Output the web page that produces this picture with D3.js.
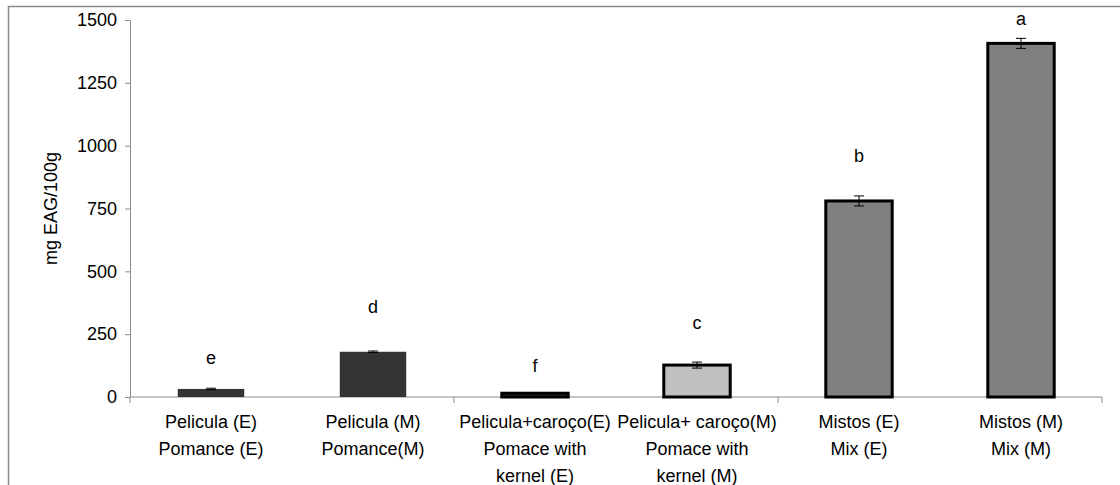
<!DOCTYPE html>
<html>
<head>
<meta charset="utf-8">
<script src="https://cdn.jsdelivr.net/npm/d3@7"></script>
<style>
  body { margin: 0; background: #fff; }
  svg { display: block; font-family: Arial, "Liberation Sans", sans-serif; }
</style>
</head>
<body>
<svg id="chart" width="1120" height="485"></svg>
<script>
// categories, each a list of label lines
const categories = [
  ['Pelicula (E)', 'Pomance (E)'],
  ['Pelicula (M)', 'Pomance(M)'],
  ['Pelicula+caroço(E)', 'Pomace with', 'kernel (E)'],
  ['Pelicula+ caroço(M)', 'Pomace with', 'kernel (M)'],
  ['Mistos (E)', 'Mix (E)'],
  ['Mistos (M)', 'Mix (M)'],
];
const values = [32, 180, 15, 127, 780, 1407];
const errors = [3, 3, 0, 12, 20, 20];
const letters = ['e', 'd', 'f', 'c', 'b', 'a'];
const letterAt = [131, 334, 100, 270, 935, 1480]; // baseline height in mg units
const yTicks = [0, 250, 500, 750, 1000, 1250, 1500];
const yTitle = 'mg EAG/100g';

const barFill = ['#333333', '#333333', '#333333', '#c0c0c0', '#808080', '#808080'];
const barStroke = [null, null, '#000', '#000', '#000', '#000'];

const margin = { top: 20, right: 18, bottom: 88, left: 130 };
const svg = d3.select('#chart');
const W = +svg.attr('width'), H = +svg.attr('height');
const width = W - margin.left - margin.right;
const height = H - margin.top - margin.bottom;
const axisColor = '#8c8c8c';
const fs = 18;

// outer frame (only top and left edges are visible)
svg.append('path')
  .attr('d', `M8.5,${H} V6.5 H${W}`)
  .attr('fill', 'none')
  .attr('stroke', '#8a8a8a')
  .attr('stroke-width', 1.5);

const g = svg.append('g').attr('transform', `translate(${margin.left},${margin.top})`);

const idx = categories.map((d, i) => i);
const x = d3.scaleBand().domain(idx).range([0, width]).padding(0);
const y = d3.scaleLinear().domain([0, 1500]).range([height, 0]);
const barW = x.bandwidth() * 0.41;

// y axis
const yAxis = g.append('g')
  .call(d3.axisLeft(y).tickValues(yTicks).tickSize(5).tickPadding(8).tickFormat(d3.format('d')));
yAxis.select('.domain').attr('stroke', axisColor);
yAxis.selectAll('.tick line').attr('stroke', axisColor);
yAxis.selectAll('.tick text').attr('font-size', fs).attr('fill', '#000')
  .attr('font-family', 'Arial, "Liberation Sans", sans-serif');

g.append('text')
  .attr('transform', `translate(${-73},${y(750)}) rotate(-90)`)
  .attr('text-anchor', 'middle')
  .attr('font-size', fs)
  .text(yTitle);

// x axis
g.append('line')
  .attr('x1', 0).attr('x2', width)
  .attr('y1', y(0)).attr('y2', y(0))
  .attr('stroke', axisColor);
const xTicks = idx.filter(i => i % 2 === 0).map(i => x(i)).concat([width]);
g.selectAll('.xtick').data(xTicks).join('line')
  .attr('class', 'xtick')
  .attr('x1', d => d).attr('x2', d => d)
  .attr('y1', y(0)).attr('y2', y(0) + 6)
  .attr('stroke', axisColor);

// category labels
const labels = g.selectAll('.cat').data(categories).join('text')
  .attr('class', 'cat')
  .attr('text-anchor', 'middle')
  .attr('font-size', fs)
  .attr('x', (d, i) => x(i) + x.bandwidth() / 2)
  .attr('y', y(0) + 31);
labels.selectAll('tspan').data(d => d).join('tspan')
  .attr('x', function () { return d3.select(this.parentNode).attr('x'); })
  .attr('dy', (d, i) => i === 0 ? 0 : 27)
  .text(d => d);

// bars
g.selectAll('.bar').data(values).join('rect')
  .attr('class', 'bar')
  .attr('x', (d, i) => x(i) + (x.bandwidth() - barW) / 2)
  .attr('width', barW)
  .attr('y', d => y(d))
  .attr('height', d => y(0) - y(d))
  .attr('fill', (d, i) => barFill[i])
  .attr('stroke', (d, i) => barStroke[i] || 'none')
  .attr('stroke-width', 3);

// error bars
const eb = g.selectAll('.err').data(values).join('g').attr('class', 'err')
  .attr('stroke', '#000').attr('stroke-width', 1);
const cx = i => x(i) + x.bandwidth() / 2;
eb.append('line')
  .attr('x1', (d, i) => cx(i)).attr('x2', (d, i) => cx(i))
  .attr('y1', (d, i) => y(d + errors[i])).attr('y2', (d, i) => y(d - errors[i]));
eb.append('line')
  .attr('x1', (d, i) => cx(i) - 5).attr('x2', (d, i) => cx(i) + 5)
  .attr('y1', (d, i) => y(d + errors[i])).attr('y2', (d, i) => y(d + errors[i]));
eb.append('line')
  .attr('x1', (d, i) => cx(i) - 5).attr('x2', (d, i) => cx(i) + 5)
  .attr('y1', (d, i) => y(d - errors[i])).attr('y2', (d, i) => y(d - errors[i]));

// significance letters
g.selectAll('.letter').data(letters).join('text')
  .attr('class', 'letter')
  .attr('text-anchor', 'middle')
  .attr('font-size', fs)
  .attr('x', (d, i) => cx(i))
  .attr('y', (d, i) => y(letterAt[i]))
  .text(d => d);
</script>
</body>
</html>
